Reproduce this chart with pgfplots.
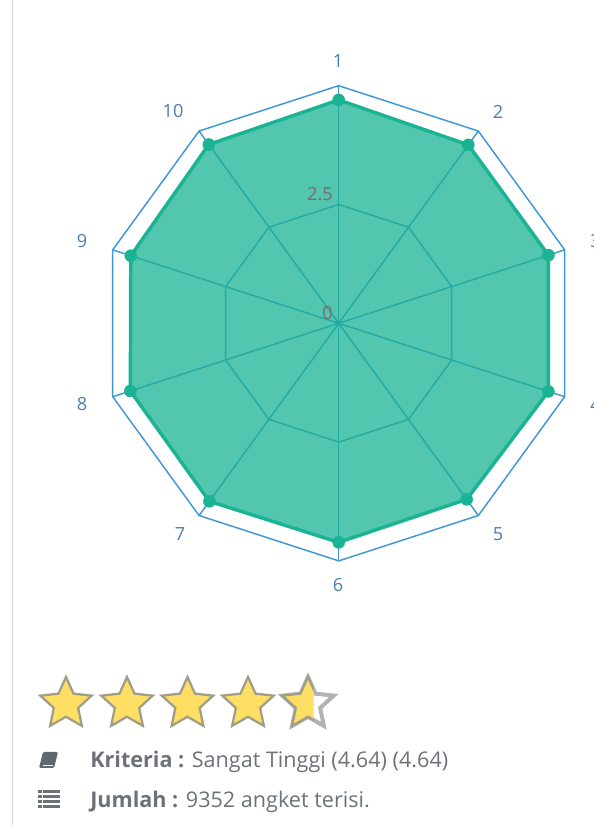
\documentclass[border=0pt]{standalone}
\usepackage{pgfplots}
\usepackage{fontspec}
\setmainfont{Open Sans}
\pgfplotsset{compat=1.18}
\definecolor{gridblue}{HTML}{3F97D5}
\definecolor{teal1}{HTML}{1AB394}
\definecolor{lab}{HTML}{4A7DB5}
\definecolor{tick}{HTML}{7A6A72}
\definecolor{txt}{HTML}{6D7278}
\definecolor{stary}{HTML}{FEDF63}
\newcommand{\onestar}[3]{% cx, cy, style
  \path[#3] (#1,#2-27)
  \foreach \k in {1,...,9}{ -- ({#1+(mod(\k,2)==1 ? 12.8 : 27)*sin(36*\k)},{#2-(mod(\k,2)==1 ? 12.8 : 27)*cos(36*\k)}) } -- cycle;}
\begin{document}
\begin{tikzpicture}
\path[use as bounding box, clip] (0,0) rectangle (444.75pt,618.75pt);
\begin{axis}[at={(0,0)},anchor=south west,scale only axis,width=444.75pt,height=618.75pt,
  hide axis,clip=false,
  xmin=-7.1275,xmax=5.3515,ymin=-10.5577,ymax=6.8034]
% grid rings
\addplot[data cs=polar,gridblue,line width=1.1pt,line join=round] coordinates {
(90,5)(54,5)(18,5)(-18,5)(-54,5)(-90,5)(-126,5)(-162,5)(162,5)(126,5)(90,5)};
\addplot[data cs=polar,gridblue,line width=1.1pt,line join=round] coordinates {
(90,2.5)(54,2.5)(18,2.5)(-18,2.5)(-54,2.5)(-90,2.5)(-126,2.5)(-162,2.5)(162,2.5)(126,2.5)(90,2.5)};
% spokes
\addplot[data cs=polar,gridblue,line width=1.1pt] coordinates {(90,0)(90,5)};
\addplot[data cs=polar,gridblue,line width=1.1pt] coordinates {(54,0)(54,5)};
\addplot[data cs=polar,gridblue,line width=1.1pt] coordinates {(18,0)(18,5)};
\addplot[data cs=polar,gridblue,line width=1.1pt] coordinates {(-18,0)(-18,5)};
\addplot[data cs=polar,gridblue,line width=1.1pt] coordinates {(-54,0)(-54,5)};
\addplot[data cs=polar,gridblue,line width=1.1pt] coordinates {(-90,0)(-90,5)};
\addplot[data cs=polar,gridblue,line width=1.1pt] coordinates {(-126,0)(-126,5)};
\addplot[data cs=polar,gridblue,line width=1.1pt] coordinates {(-162,0)(-162,5)};
\addplot[data cs=polar,gridblue,line width=1.1pt] coordinates {(162,0)(162,5)};
\addplot[data cs=polar,gridblue,line width=1.1pt] coordinates {(126,0)(126,5)};
% series
\addplot[data cs=polar,draw=teal1,line width=2.6pt,line join=round,fill=teal1,fill opacity=0.75,draw opacity=1] coordinates {
(90,4.70)(54,4.64)(18,4.64)(-18,4.64)(-54,4.58)(-90,4.61)(-126,4.63)(-162,4.61)(162,4.60)(126,4.65)(90,4.70)};
\addplot[data cs=polar,only marks,mark=*,mark size=4.5pt,mark options={fill=teal1,draw=teal1}] coordinates {
(90,4.70)(54,4.64)(18,4.64)(-18,4.64)(-54,4.58)(-90,4.61)(-126,4.63)(-162,4.61)(162,4.60)(126,4.65)};
\end{axis}
\begin{scope}[shift={(0,618.75pt)},x=0.75pt,y=-0.75pt]
\draw[gray!30,line width=0.8pt] (12.5,0) -- (12.5,825);
% axis labels
\foreach \x/\y/\t in {338/61.5/1,498/111.5/2,498/534.5/5,338/585.5/6,180/534.5/7,82/404.5/8,82/241.5/9,173/111.5/10}
  \node[text=lab,font=\fontsize{13.6}{15}\selectfont,inner sep=0pt] at (\x,\y) {\t};
\node[text=lab,font=\fontsize{13.6}{15}\selectfont,inner sep=0pt,anchor=west] at (590,241.5) {3};
\node[text=lab,font=\fontsize{13.6}{15}\selectfont,inner sep=0pt,anchor=west] at (590,404.5) {4};
\node[text=tick,font=\fontsize{13.6}{15}\selectfont,inner sep=0pt,anchor=east] at (333,194.5) {2.5};
\node[text=tick,font=\fontsize{13.6}{15}\selectfont,inner sep=0pt,anchor=east] at (333,313.5) {0};
% stars
\onestar{66}{704}{fill=stary,draw=gray!85!yellow,line width=1.7pt,line join=miter}
\onestar{127}{704}{fill=stary,draw=gray!85!yellow,line width=1.7pt,line join=miter}
\onestar{187.5}{704}{fill=stary,draw=gray!85!yellow,line width=1.7pt,line join=miter}
\onestar{248}{704}{fill=stary,draw=gray!85!yellow,line width=1.7pt,line join=miter}
\onestar{308}{704}{fill=white,draw=gray!60,line width=3pt,line join=miter}
\begin{scope}
\clip (270,670) rectangle (313.5,730);
\onestar{308}{704}{fill=stary,draw=gray!85!yellow,line width=1.7pt,line join=miter}
\end{scope}
% icons
\fill[txt!90!black,rounded corners=1pt] (39,768) -- (43,752) -- (58,752) -- (54,768) -- cycle;
\draw[white,line width=0.5pt] (43,765) -- (53,765);
\foreach \y in {792,797,802,807} {
  \fill[txt] (38,\y-1.5) rectangle (41.5,\y+1.5);
  \fill[txt] (43,\y-1.5) rectangle (60,\y+1.5);
}
% text
\node[text=txt,font=\fontsize{16.2}{18}\selectfont,inner sep=0pt,anchor=base west] at (90,768) {\textbf{Kriteria :} Sangat Tinggi (4.64) (4.64)};
\node[text=txt,font=\fontsize{16.2}{18}\selectfont,inner sep=0pt,anchor=base west] at (90,808) {\textbf{Jumlah :} 9352 angket terisi.};
\end{scope}
\end{tikzpicture}
\end{document}
